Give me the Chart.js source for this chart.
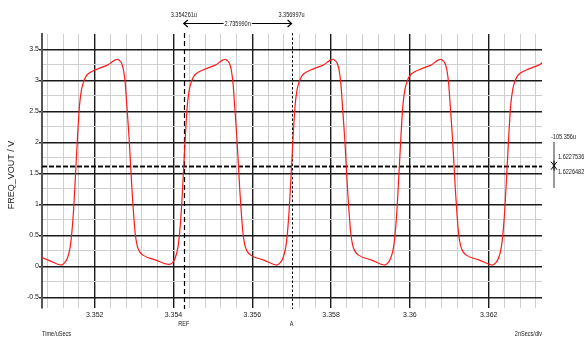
<!DOCTYPE html>
<html>
<head>
<meta charset="utf-8">
<script src="https://cdn.jsdelivr.net/npm/chart.js@4.4.1/dist/chart.umd.min.js"></script>
<style>
html,body{margin:0;padding:0;background:#fff;}
#wrap{width:584px;height:342px;}
</style>
</head>
<body>
<div id="wrap"><canvas id="c" width="584" height="342"></canvas></div>
<script>
// ---- data ----
const timeUs = [
  3.350489,3.350819,
  3.351155,3.351225,3.351305,3.351375,3.351425,3.351465,3.351495,3.351525,3.351565,3.351615,3.351665,3.351715,3.351775,3.351845,
  3.352025,3.352225,3.352345,3.352445,3.352525,3.352575,3.352625,3.352685,3.352735,3.352775,3.352815,3.352875,3.352945,3.353025,
  3.353075,3.353135,3.353225,3.353555,
  3.353891,3.353961,3.354041,3.354111,3.354161,3.354201,3.354231,3.354261,3.354301,3.354351,3.354401,3.354451,3.354511,3.354581,
  3.354761,3.354961,3.355081,3.355181,3.355261,3.355311,3.355361,3.355421,3.355471,3.355511,3.355551,3.355611,3.355681,3.355761,
  3.355811,3.355871,3.355961,3.356291,
  3.356627,3.356697,3.356777,3.356847,3.356897,3.356937,3.356967,3.356997,3.357037,3.357087,3.357137,3.357187,3.357247,3.357317,
  3.357497,3.357697,3.357817,3.357917,3.357997,3.358047,3.358097,3.358157,3.358207,3.358247,3.358287,3.358347,3.358417,3.358497,
  3.358547,3.358607,3.358697,3.359027,
  3.359363,3.359433,3.359513,3.359583,3.359633,3.359673,3.359703,3.359733,3.359773,3.359823,3.359873,3.359923,3.359983,3.360053,
  3.360233,3.360433,3.360553,3.360653,3.360733,3.360783,3.360833,3.360893,3.360943,3.360983,3.361023,3.361083,3.361153,3.361233,
  3.361283,3.361343,3.361433,3.361763,
  3.362099,3.362169,3.362249,3.362319,3.362369,3.362409,3.362439,3.362469,3.362509,3.362559,3.362609,3.362659,3.362719,3.362789,
  3.362969,3.363169,3.363289,3.363389
];
const voutV = [
  0.18,0.10,
  0.02,0.05,0.13,0.30,0.58,0.92,1.26,1.62,2.10,2.60,2.85,2.97,3.06,3.11,
  3.17,3.22,3.25,3.30,3.33,3.34,3.32,3.27,3.15,2.95,2.60,2.05,1.25,0.55,
  0.34,0.24,0.18,0.10,
  0.03,0.05,0.13,0.30,0.58,0.92,1.26,1.62,2.10,2.60,2.85,2.97,3.06,3.11,
  3.17,3.22,3.25,3.30,3.33,3.34,3.32,3.27,3.15,2.95,2.60,2.05,1.25,0.55,
  0.34,0.24,0.18,0.10,
  0.02,0.05,0.13,0.30,0.58,0.92,1.26,1.62,2.10,2.60,2.85,2.97,3.06,3.11,
  3.17,3.22,3.25,3.30,3.33,3.34,3.32,3.27,3.15,2.95,2.60,2.05,1.25,0.55,
  0.34,0.24,0.18,0.10,
  0.02,0.05,0.13,0.30,0.58,0.92,1.26,1.62,2.10,2.60,2.85,2.97,3.06,3.11,
  3.17,3.22,3.25,3.30,3.33,3.34,3.32,3.27,3.15,2.95,2.60,2.05,1.25,0.55,
  0.34,0.24,0.18,0.10,
  0.02,0.05,0.13,0.30,0.58,0.92,1.26,1.62,2.10,2.60,2.85,2.97,3.06,3.11,
  3.17,3.22,3.25,3.30
];
const xMajorTicks = [3.352, 3.354, 3.356, 3.358, 3.360, 3.362];
const xTickLabels = ['3.352', '3.354', '3.356', '3.358', '3.36', '3.362'];
const yMajorTicks = [-0.5, 0, 0.5, 1, 1.5, 2, 2.5, 3, 3.5];
const yTickLabels = ['-0.5', '0', '0.5', '1', '1.5', '2', '2.5', '3', '3.5'];
const yMinorTicks = [-0.25, 0.25, 0.75, 1.25, 1.75, 2.25, 2.75, 3.25];
const cursorX = [3.354261, 3.356997];
const cursorXNames = ['REF', 'A'];
const cursorXTexts = ['3.354261u', '3.356997u'];
const cursorY = [1.6227536, 1.6226482];
const cursorYTexts = ['1.6227536', '1.6226482'];
const deltaXText = '2.735990n';
const deltaYText = '-105.356u';
const yTitle = 'FREQ_VOUT / V';
const xTitle = 'Time/uSecs';
const xDivText = '2nSecs/div';

// minor vertical grid every 0.4 ns (styling only)
const xMinorTicks = [];
for (let i = 0; i <= 31; i++) {
  const v = Math.round((3.3508 + i * 0.0004) * 1e6) / 1e6;
  if (!xMajorTicks.some(m => Math.abs(m - v) < 1e-7)) xMinorTicks.push(v);
}

const FONT = "'Liberation Sans', Arial, sans-serif";
const SX = 0.74; // narrow text look
const isMajor = (arr, v) => arr.some(m => Math.abs(m - v) < 1e-7);

const points = timeUs.map((t, i) => ({x: t, y: voutV[i]}));

function narrowText(ctx, text, x, y, align) {
  ctx.save();
  ctx.translate(x, y);
  ctx.scale(SX, 1);
  ctx.textAlign = align;
  ctx.fillText(text, 0, 0);
  ctx.restore();
}

const overlay = {
  id: 'overlay',
  beforeDatasetsDraw(chart) {
    const {ctx, chartArea: a, scales: {x, y}} = chart;
    ctx.save();
    ctx.strokeStyle = '#000';
    cursorX.forEach((cx, i) => {
      const px = Math.round(x.getPixelForValue(cx)) + 0.5;
      ctx.lineWidth = i === 0 ? 1.2 : 1;
      ctx.setLineDash(i === 0 ? [5, 3] : [2.5, 2]);
      ctx.beginPath(); ctx.moveTo(px, a.top - 1); ctx.lineTo(px, a.bottom + 1); ctx.stroke();
    });
    ctx.lineWidth = 1.3;
    ctx.setLineDash([5, 2]);
    cursorY.forEach(cy => {
      const py = Math.round(y.getPixelForValue(cy)) + 0.5;
      ctx.beginPath(); ctx.moveTo(a.left, py); ctx.lineTo(a.right, py); ctx.stroke();
    });
    ctx.restore();
  },
  afterDraw(chart) {
    const {ctx, chartArea: a, scales: {x, y}} = chart;
    ctx.save();
    ctx.fillStyle = '#222';
    ctx.font = '7.5px ' + FONT;
    ctx.textBaseline = 'middle';
    const p0 = x.getPixelForValue(cursorX[0]);
    const p1 = x.getPixelForValue(cursorX[1]);
    narrowText(ctx, cursorXTexts[0], p0, 15, 'center');
    narrowText(ctx, cursorXTexts[1], p1, 15, 'center');
    // delta arrow
    const ay = 23.5;
    ctx.strokeStyle = '#000';
    ctx.lineWidth = 1.2;
    ctx.beginPath(); ctx.moveTo(p0, ay); ctx.lineTo(p1, ay); ctx.stroke();
    ctx.beginPath();
    ctx.moveTo(p0 + 4, ay - 3.5); ctx.lineTo(p0, ay); ctx.lineTo(p0 + 4, ay + 3.5);
    ctx.moveTo(p1 - 4, ay - 3.5); ctx.lineTo(p1, ay); ctx.lineTo(p1 - 4, ay + 3.5);
    ctx.stroke();
    const mid = (p0 + p1) / 2;
    const tw = ctx.measureText(deltaXText).width * SX;
    ctx.fillStyle = '#fff';
    ctx.fillRect(mid - tw / 2 - 1, ay - 4, tw + 2, 8);
    ctx.fillStyle = '#222';
    narrowText(ctx, deltaXText, mid, ay, 'center');
    // cursor names
    narrowText(ctx, cursorXNames[0], p0, 324, 'center');
    narrowText(ctx, cursorXNames[1], p1, 324, 'center');
    // axis titles
    narrowText(ctx, xTitle, a.left, 334, 'left');
    narrowText(ctx, xDivText, a.right, 334, 'right');
    ctx.save();
    ctx.font = '9px ' + FONT;
    ctx.translate(12, 175);
    ctx.rotate(-Math.PI / 2);
    ctx.textAlign = 'center';
    ctx.fillText(yTitle, 0, 0);
    ctx.restore();
    // right-side delta-y marker
    const ly = y.getPixelForValue(cursorY[0]);
    const mx = 554;
    ctx.strokeStyle = '#9a9a9a';
    ctx.lineWidth = 2;
    ctx.beginPath(); ctx.moveTo(mx, 142); ctx.lineTo(mx, 188); ctx.stroke();
    ctx.strokeStyle = '#000';
    ctx.lineWidth = 1;
    ctx.beginPath();
    ctx.moveTo(mx - 3, ly - 4); ctx.lineTo(mx, ly); ctx.lineTo(mx + 3, ly - 4);
    ctx.moveTo(mx - 3, ly + 4); ctx.lineTo(mx, ly); ctx.lineTo(mx + 3, ly + 4);
    ctx.moveTo(mx, ly - 5); ctx.lineTo(mx, ly + 5);
    ctx.stroke();
    narrowText(ctx, deltaYText, 551, 137, 'left');
    narrowText(ctx, cursorYTexts[0], 558, 157, 'left');
    narrowText(ctx, cursorYTexts[1], 558, 172, 'left');
    ctx.restore();
  }
};

new Chart(document.getElementById('c'), {
  type: 'scatter',
  data: {
    datasets: [{
      data: points,
      showLine: true,
      borderColor: '#ff1a1a',
      borderWidth: 1.2,
      pointRadius: 0,
      cubicInterpolationMode: 'monotone',
      fill: false
    }]
  },
  options: {
    responsive: false,
    animation: false,
    devicePixelRatio: 1,
    layout: {padding: {left: 0, right: 42, top: 34, bottom: 0}},
    plugins: {legend: {display: false}, tooltip: {enabled: false}},
    scales: {
      x: {
        type: 'linear',
        min: 3.3506624,
        max: 3.363353,
        afterFit: s => { s.height = 34; },
        afterBuildTicks: s => {
          s.ticks = xMinorTicks.concat(xMajorTicks).sort((p, q) => p - q).map(v => ({value: v}));
        },
        border: {display: false},
        grid: {
          drawTicks: false,
          color: c => isMajor(xMajorTicks, c.tick.value) ? '#1a1a1a' : '#cfcfcf',
          lineWidth: c => isMajor(xMajorTicks, c.tick.value) ? 1.4 : 1
        },
        ticks: {
          autoSkip: false,
          maxRotation: 0,
          padding: 3,
          color: '#222',
          font: {family: FONT, size: 7},
          callback: v => {
            const i = xMajorTicks.findIndex(m => Math.abs(m - v) < 1e-7);
            return i >= 0 ? xTickLabels[i] : '';
          }
        }
      },
      y: {
        type: 'linear',
        min: -0.673,
        max: 3.747,
        afterFit: s => { s.width = 42; },
        afterBuildTicks: s => {
          s.ticks = yMinorTicks.concat(yMajorTicks).sort((p, q) => p - q).map(v => ({value: v}));
        },
        border: {display: true, color: '#555', width: 2},
        grid: {
          drawTicks: true,
          tickLength: 3,
          tickColor: c => isMajor(yMajorTicks, c.tick.value) ? '#333' : 'rgba(0,0,0,0)',
          color: c => isMajor(yMajorTicks, c.tick.value) ? '#1a1a1a' : '#cfcfcf',
          lineWidth: c => isMajor(yMajorTicks, c.tick.value) ? 1.4 : 1
        },
        ticks: {
          autoSkip: false,
          padding: 0,
          color: '#222',
          font: {family: FONT, size: 7},
          callback: v => {
            const i = yMajorTicks.findIndex(m => Math.abs(m - v) < 1e-7);
            return i >= 0 ? yTickLabels[i] : '';
          }
        }
      }
    }
  },
  plugins: [overlay]
});
</script>
</body>
</html>
